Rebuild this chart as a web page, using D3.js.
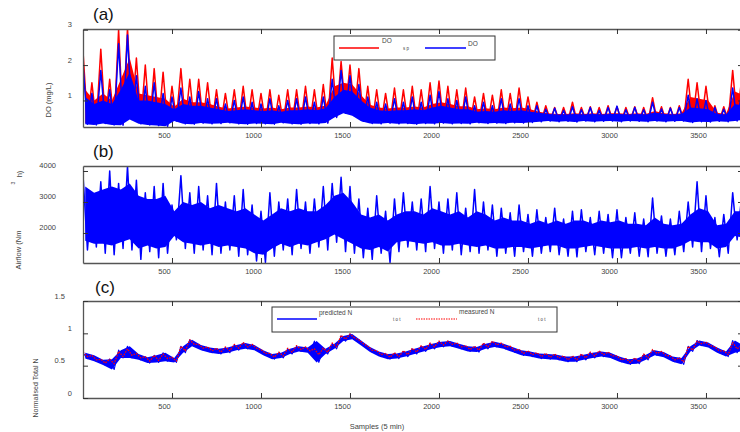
<!DOCTYPE html>
<html lang="en">
<head>
    <script src="https://d3js.org/d3.v7.min.js"></script>
    <meta charset="UTF-8">
    <title>DO, Airflow and Total N</title>
</head>
<style>
    body {
        margin: 0;
        background: #fff;
    }
    svg text {
        font-family: "Liberation Sans", Arial, sans-serif;
        fill: #444;
    }
</style>
<body>
    <div id='grafico'></div>
</body>
<script>
    // samples grouped in bins of 50: hi/lo = spike extremes, band = edges of the dense part
    var binSize = 50
    var xTicks = [500, 1000, 1500, 2000, 2500, 3000, 3500]

    var doTicks = [1, 2, 3]
    var doSpHi = [2.4, 1.5, 2.45, 1.6, 3.0, 3.05, 2.2, 2.0, 1.9, 1.8, 1.4, 1.9, 1.6, 1.6, 1.5,
        1.3, 1.2, 1.3, 1.4, 1.3, 1.2, 1.3, 1.15, 1.3, 1.3, 1.4, 1.3, 1.45, 2.2, 2.1,
        2.0, 1.9, 1.4, 1.3, 1.2, 1.35, 1.3, 1.4, 1.3, 1.5, 1.55, 1.4, 1.3, 1.35, 1.1,
        1.2, 1.15, 1.3, 1.2, 1.35, 1.1, 0.95, 0.85, 0.8, 0.8, 0.95, 0.8, 0.82, 0.8, 0.85,
        0.82, 0.8, 0.82, 0.8, 1.08, 0.82, 0.8, 0.85, 1.6, 1.5, 1.4, 0.85, 0.82, 1.85, 1.6]
    var doSpBand = [1.3, 1.0, 1.2, 1.0, 1.6, 2.2, 1.2, 1.15, 1.1, 1.05, 0.82, 1.05, 0.95, 0.95, 0.9,
        0.82, 0.77, 0.8, 0.83, 0.8, 0.77, 0.8, 0.75, 0.8, 0.8, 0.83, 0.8, 0.86, 1.4, 1.5,
        1.45, 1.15, 0.88, 0.8, 0.77, 0.8, 0.8, 0.83, 0.8, 0.9, 0.95, 0.9, 0.84, 0.84, 0.75,
        0.78, 0.75, 0.8, 0.78, 0.8, 0.75, 0.68, 0.64, 0.62, 0.62, 0.64, 0.62, 0.64, 0.62, 0.64,
        0.64, 0.62, 0.64, 0.62, 0.7, 0.64, 0.62, 0.64, 1.1, 1.05, 1.0, 0.65, 0.62, 1.25, 1.15]
    var doSpLo = [0.36, 0.34, 0.38, 0.34, 0.33, 0.5, 0.37, 0.34, 0.32, 0.3, 0.45, 0.37, 0.36, 0.38, 0.36,
        0.37, 0.39, 0.36, 0.35, 0.37, 0.36, 0.35, 0.39, 0.36, 0.35, 0.37, 0.36, 0.38, 0.55, 0.68,
        0.6, 0.44, 0.37, 0.36, 0.38, 0.36, 0.37, 0.35, 0.37, 0.36, 0.38, 0.36, 0.37, 0.36, 0.39,
        0.37, 0.38, 0.37, 0.39, 0.38, 0.4, 0.42, 0.44, 0.42, 0.43, 0.41, 0.44, 0.42, 0.43, 0.44,
        0.42, 0.44, 0.43, 0.42, 0.44, 0.42, 0.43, 0.44, 0.4, 0.42, 0.41, 0.43, 0.42, 0.44, 0.48]
    var doHi = [2.0, 1.2, 1.85, 1.3, 2.6, 2.85, 1.7, 1.4, 1.5, 1.2, 1.1, 1.35, 1.1, 1.25, 1.05,
        1.05, 0.9, 1.0, 1.1, 0.95, 0.9, 1.05, 0.85, 1.0, 1.05, 1.1, 0.95, 1.1, 1.6, 1.85,
        1.7, 1.45, 1.1, 0.95, 0.9, 1.05, 0.95, 1.1, 0.95, 1.15, 1.25, 1.05, 1.0, 1.1, 0.85,
        0.95, 0.85, 1.05, 0.9, 1.05, 0.85, 0.85, 0.75, 0.78, 0.72, 0.82, 0.74, 0.8, 0.72, 0.8,
        0.84, 0.74, 0.8, 0.74, 0.95, 0.76, 0.78, 0.8, 1.15, 1.05, 1.0, 0.8, 0.75, 1.35, 1.2]
    var doBand = [1.1, 0.9, 1.0, 0.9, 1.3, 1.8, 1.0, 1.0, 0.95, 0.9, 0.75, 0.9, 0.85, 0.85, 0.8,
        0.75, 0.7, 0.72, 0.75, 0.72, 0.7, 0.72, 0.68, 0.72, 0.72, 0.75, 0.72, 0.78, 1.1, 1.3,
        1.25, 1.0, 0.8, 0.72, 0.7, 0.72, 0.72, 0.75, 0.72, 0.8, 0.85, 0.8, 0.75, 0.75, 0.68,
        0.7, 0.68, 0.72, 0.7, 0.72, 0.68, 0.65, 0.62, 0.6, 0.6, 0.62, 0.6, 0.62, 0.6, 0.62,
        0.62, 0.6, 0.62, 0.6, 0.66, 0.62, 0.6, 0.62, 0.8, 0.78, 0.75, 0.62, 0.6, 0.9, 0.85]
    var doLo = [0.33, 0.31, 0.35, 0.31, 0.3, 0.46, 0.34, 0.31, 0.29, 0.27, 0.42, 0.34, 0.33, 0.36, 0.34,
        0.35, 0.37, 0.34, 0.33, 0.35, 0.34, 0.33, 0.37, 0.34, 0.33, 0.35, 0.34, 0.36, 0.52, 0.64,
        0.57, 0.41, 0.35, 0.34, 0.36, 0.34, 0.35, 0.33, 0.35, 0.34, 0.36, 0.34, 0.35, 0.34, 0.37,
        0.35, 0.36, 0.35, 0.37, 0.36, 0.38, 0.4, 0.42, 0.4, 0.41, 0.39, 0.42, 0.4, 0.41, 0.42,
        0.4, 0.42, 0.41, 0.4, 0.42, 0.4, 0.41, 0.42, 0.38, 0.4, 0.39, 0.41, 0.4, 0.42, 0.46]

    var airTicks = [2000, 3000, 4000]
    var airHi = [3870, 3300, 3650, 4000, 3600, 4150, 3700, 3300, 3500, 3600, 2900, 3850, 3300, 3500, 3200,
        3600, 3000, 3200, 3400, 2900, 2700, 3300, 3000, 3100, 3400, 3000, 3100, 3500, 3600, 3800,
        3500, 3100, 2800, 3200, 2700, 3100, 3300, 3000, 3100, 3500, 3000, 3100, 3300, 2800, 3400,
        3000, 2900, 2800, 2650, 2900, 2600, 2750, 2500, 2800, 2450, 2700, 2750, 2500, 2700, 2600,
        2750, 2500, 2650, 2450, 3130, 2550, 2450, 2700, 3000, 3650, 3200, 2500, 2600, 3300, 3150]
    var airBandHi = [3500, 3300, 3400, 3500, 3400, 3600, 3200, 3100, 3100, 3200, 2700, 3000, 2900, 3000, 2800,
        2900, 2800, 2700, 2800, 2600, 2400, 2600, 2800, 2700, 2800, 2700, 2700, 2900, 3200, 3300,
        3000, 2600, 2500, 2600, 2400, 2600, 2700, 2700, 2600, 2800, 2700, 2600, 2700, 2500, 2700,
        2600, 2400, 2500, 2400, 2400, 2300, 2400, 2300, 2400, 2300, 2400, 2400, 2300, 2400, 2350,
        2400, 2300, 2300, 2250, 2500, 2300, 2250, 2300, 2600, 2800, 2700, 2250, 2300, 2700, 2700]
    var airBandLo = [1750, 1650, 1650, 1600, 1700, 1800, 1500, 1600, 1500, 1550, 1900, 1700, 1650, 1600, 1650,
        1550, 1600, 1550, 1500, 1350, 1300, 1500, 1650, 1550, 1650, 1600, 1700, 1800, 1950, 1800,
        1650, 1500, 1450, 1550, 1400, 1700, 1750, 1700, 1650, 1700, 1600, 1600, 1650, 1600, 1550,
        1600, 1500, 1500, 1550, 1550, 1500, 1550, 1600, 1600, 1500, 1500, 1550, 1600, 1550, 1500,
        1500, 1500, 1550, 1500, 1550, 1500, 1500, 1600, 1750, 1700, 1700, 1500, 1550, 1900, 1850]
    var airLo = [1450, 1550, 1350, 1300, 1500, 1450, 1150, 1400, 1200, 1350, 1780, 1500, 1350, 1450, 1300,
        1350, 1450, 1250, 1300, 1100, 1050, 1250, 1450, 1300, 1500, 1350, 1550, 1450, 1700, 1400,
        1350, 1200, 1150, 1350, 1040, 1400, 1550, 1450, 1400, 1500, 1350, 1450, 1300, 1400, 1350,
        1450, 1250, 1350, 1250, 1400, 1250, 1350, 1400, 1300, 1250, 1230, 1400, 1300, 1350, 1200,
        1200, 1350, 1250, 1235, 1350, 1250, 1300, 1400, 1550, 1400, 1500, 1235, 1350, 1780, 1600]

    var nTicks = [0, 0.5, 1, 1.5]
    var nPredHi = [0.70, 0.66, 0.59, 0.60, 0.74, 0.80, 0.68, 0.63, 0.66, 0.70, 0.62, 0.80, 0.90, 0.82, 0.78,
        0.76, 0.78, 0.82, 0.85, 0.82, 0.74, 0.68, 0.70, 0.76, 0.80, 0.78, 0.88, 0.76, 0.84, 0.96,
        0.99, 0.89, 0.79, 0.72, 0.68, 0.69, 0.72, 0.76, 0.80, 0.84, 0.87, 0.88, 0.84, 0.80, 0.79,
        0.84, 0.87, 0.84, 0.79, 0.74, 0.72, 0.69, 0.68, 0.67, 0.64, 0.64, 0.67, 0.70, 0.72, 0.70,
        0.64, 0.60, 0.61, 0.67, 0.74, 0.71, 0.64, 0.62, 0.80, 0.89, 0.86, 0.78, 0.72, 0.89, 0.81]
    var nPredLo = [0.61, 0.57, 0.51, 0.44, 0.62, 0.62, 0.59, 0.54, 0.55, 0.57, 0.55, 0.70, 0.80, 0.74, 0.70,
        0.68, 0.70, 0.74, 0.76, 0.74, 0.66, 0.60, 0.62, 0.68, 0.72, 0.70, 0.55, 0.68, 0.76, 0.88,
        0.91, 0.81, 0.71, 0.64, 0.60, 0.61, 0.64, 0.68, 0.72, 0.76, 0.79, 0.80, 0.76, 0.72, 0.71,
        0.76, 0.79, 0.76, 0.71, 0.66, 0.64, 0.61, 0.60, 0.59, 0.56, 0.56, 0.59, 0.62, 0.64, 0.62,
        0.56, 0.52, 0.53, 0.59, 0.66, 0.63, 0.56, 0.52, 0.72, 0.81, 0.78, 0.70, 0.64, 0.70, 0.73]
    var nMeasHi = [0.71, 0.66, 0.60, 0.60, 0.72, 0.76, 0.69, 0.64, 0.66, 0.68, 0.63, 0.80, 0.90, 0.83, 0.79,
        0.77, 0.79, 0.83, 0.86, 0.83, 0.75, 0.69, 0.71, 0.77, 0.81, 0.79, 0.76, 0.77, 0.85, 0.97,
        0.99, 0.90, 0.80, 0.73, 0.69, 0.70, 0.73, 0.77, 0.81, 0.85, 0.88, 0.88, 0.85, 0.81, 0.80,
        0.85, 0.88, 0.85, 0.80, 0.75, 0.73, 0.70, 0.69, 0.68, 0.65, 0.65, 0.68, 0.71, 0.73, 0.71,
        0.65, 0.61, 0.62, 0.68, 0.75, 0.72, 0.65, 0.62, 0.80, 0.88, 0.86, 0.79, 0.73, 0.86, 0.81]
    var nMeasLo = [0.64, 0.59, 0.54, 0.53, 0.64, 0.66, 0.62, 0.57, 0.58, 0.61, 0.57, 0.73, 0.83, 0.77, 0.73,
        0.71, 0.73, 0.77, 0.79, 0.77, 0.69, 0.63, 0.65, 0.71, 0.75, 0.73, 0.67, 0.71, 0.79, 0.91,
        0.93, 0.84, 0.74, 0.67, 0.63, 0.64, 0.67, 0.71, 0.75, 0.79, 0.82, 0.83, 0.79, 0.75, 0.74,
        0.79, 0.82, 0.79, 0.74, 0.69, 0.67, 0.64, 0.63, 0.62, 0.59, 0.59, 0.62, 0.65, 0.67, 0.65,
        0.59, 0.55, 0.56, 0.62, 0.69, 0.66, 0.59, 0.56, 0.74, 0.84, 0.81, 0.73, 0.67, 0.76, 0.76]

    // hi at the bin start, lo half a bin later
    function zigzag(hi, lo) {
        var pts = []
        hi.forEach((v, i) => {
            pts.push([i * binSize, v])
            pts.push([i * binSize + binSize / 2, lo[i]])
        })
        return pts
    }

    var svg = d3.select(document.getElementById('grafico'))
    .append('svg')
    .attr('width', 740)
    .attr('height', 432)

    var xScale = d3.scaleLinear()
    .domain([0, 3708])
    .range([83, 743])

    var paineis = [
        {id: 'a', top: 29, bottom: 127, domain: [0.25, 3.02], ticks: doTicks, labelX: -11,
            series: [
                {hi: doSpHi, lo: doSpLo, bandHi: doSpBand, bandLo: doSpLo, cor: 'red', w: 1.5},
                {hi: doHi, lo: doLo, bandHi: doBand, bandLo: doLo, cor: 'blue', w: 1.5}]},
        {id: 'b', top: 166, bottom: 263, domain: [1032, 4161], ticks: airTicks, labelX: -27,
            series: [{hi: airHi, lo: airLo, bandHi: airBandHi, bandLo: airBandLo, cor: 'blue', w: 1.5}]},
        {id: 'c', top: 301, bottom: 398, domain: [0, 1.5], ticks: nTicks, labelX: -11,
            series: [
                {hi: nPredHi, lo: nPredLo, bandHi: nPredHi, bandLo: nPredLo, cor: 'blue', w: 1.1},
                {hi: nMeasHi, lo: nMeasLo, cor: 'red', w: 1.3, dash: '1.6,1.2'}]}
    ]

    paineis.forEach((p) => {
        var yScale = d3.scaleLinear()
        .domain(p.domain)
        .range([p.bottom, p.top])

        svg.append('clipPath')
        .attr('id', 'clip-' + p.id)
        .append('rect')
        .attr('x', 83)
        .attr('y', p.top)
        .attr('width', 660)
        .attr('height', p.bottom - p.top)

        var linha = d3.line()
        .x((d) => xScale(d[0]))
        .y((d) => yScale(d[1]))

        var faixa = d3.area()
        .x((d, i) => xScale(i * binSize + binSize / 4))
        .y0((d) => yScale(d[0]))
        .y1((d) => yScale(d[1]))

        var g = svg.append('g')
        .attr('clip-path', 'url(#clip-' + p.id + ')')

        p.series.forEach((s) => {
            if (s.bandHi) {
                g.append('path')
                .attr('d', faixa(s.bandLo.map((v, i) => [v, s.bandHi[i]])))
                .attr('fill', s.cor)
            }
            g.append('path')
            .attr('d', linha(zigzag(s.hi, s.lo)))
            .attr('fill', 'none')
            .attr('stroke', s.cor)
            .attr('stroke-width', s.w)
            .attr('stroke-linejoin', 'round')
            .attr('stroke-dasharray', s.dash || null)
        })

        // matlab style box, ticks pointing inward on all four sides
        var bottomAxis = svg.append('g')
        .attr('transform', 'translate(0,' + p.bottom + ')')
        .call(d3.axisBottom(xScale).tickValues(xTicks).tickSize(-5).tickSizeOuter(0).tickFormat((d) => d))
        bottomAxis.selectAll('text')
        .attr('x', -8)
        .attr('y', 11)
        .attr('dy', null)

        svg.append('g')
        .attr('transform', 'translate(0,' + p.top + ')')
        .call(d3.axisTop(xScale).tickValues(xTicks).tickSize(-5).tickSizeOuter(0).tickFormat(''))

        var leftAxis = svg.append('g')
        .attr('transform', 'translate(83,0)')
        .call(d3.axisLeft(yScale).tickValues(p.ticks).tickSize(-5).tickSizeOuter(0).tickFormat((d) => d))
        leftAxis.selectAll('text')
        .attr('x', (d) => (p.id == 'c' && d % 1 != 0) ? -18 : p.labelX)
        .attr('y', -3)
        .attr('dy', null)

        svg.append('g')
        .attr('transform', 'translate(743,0)')
        .call(d3.axisRight(yScale).tickValues(p.ticks).tickSize(-5).tickSizeOuter(0).tickFormat(''))
    })

    svg.selectAll('.domain')
    .attr('stroke', '#555')
    .attr('stroke-width', 1.3)
    svg.selectAll('.tick line')
    .attr('stroke', '#333')
    svg.selectAll('.tick text')
    .attr('font-size', 7.5)
    .attr('font-family', null)

    // panel letters
    svg.append('text').attr('x', 93).attr('y', 20).attr('font-size', 17).style('fill', '#111').text('(a)')
    svg.append('text').attr('x', 93).attr('y', 157).attr('font-size', 17).style('fill', '#111').text('(b)')
    svg.append('text').attr('x', 95).attr('y', 293).attr('font-size', 17).style('fill', '#111').text('(c)')

    // axis titles
    function rotulo(txt, x, y, size) {
        svg.append('text')
        .attr('transform', 'translate(' + x + ',' + y + ') rotate(-90)')
        .attr('text-anchor', 'middle')
        .attr('font-size', size)
        .text(txt)
    }
    rotulo('DO (mg/L)', 51, 100, 7.5)
    rotulo('Airflow (Nm', 21, 250, 7.5)
    rotulo('3', 14.5, 183, 5)
    rotulo('h)', 22, 174, 7.5)
    rotulo('Normalised Total N', 37.5, 388, 7)

    svg.append('text')
    .attr('x', 377)
    .attr('y', 429)
    .attr('text-anchor', 'middle')
    .attr('font-size', 7.5)
    .text('Samples (5 min)')

    // legend (a)
    var legA = svg.append('g')
    legA.append('rect').attr('x', 334).attr('y', 36).attr('width', 161).attr('height', 24)
    .attr('fill', '#fff').attr('stroke', '#333').attr('stroke-width', 1)
    legA.append('line').attr('x1', 339).attr('x2', 379).attr('y1', 48).attr('y2', 48)
    .attr('stroke', 'red').attr('stroke-width', 1.5)
    legA.append('text').attr('x', 382).attr('y', 43).attr('font-size', 6.5).text('DO')
    legA.append('text').attr('x', 403).attr('y', 50).attr('font-size', 4.5).text('s  p')
    legA.append('line').attr('x1', 425).attr('x2', 466).attr('y1', 48).attr('y2', 48)
    .attr('stroke', 'blue').attr('stroke-width', 1.5)
    legA.append('text').attr('x', 468).attr('y', 46).attr('font-size', 6.5).text('DO')

    // legend (c)
    var legC = svg.append('g')
    legC.append('rect').attr('x', 272).attr('y', 307).attr('width', 285).attr('height', 25)
    .attr('fill', '#fff').attr('stroke', '#333').attr('stroke-width', 1)
    legC.append('line').attr('x1', 277).attr('x2', 317).attr('y1', 319).attr('y2', 319)
    .attr('stroke', 'blue').attr('stroke-width', 1.5)
    legC.append('text').attr('x', 319).attr('y', 315).attr('font-size', 6.5).text('predicted N')
    legC.append('text').attr('x', 393).attr('y', 321).attr('font-size', 4.5).text('t o  t')
    legC.append('line').attr('x1', 416).attr('x2', 457).attr('y1', 319).attr('y2', 319)
    .attr('stroke', 'red').attr('stroke-width', 1.2).attr('stroke-dasharray', '1.5,1')
    legC.append('text').attr('x', 459).attr('y', 314).attr('font-size', 6.5).text('measured N')
    legC.append('text').attr('x', 538).attr('y', 321).attr('font-size', 4.5).text('t o  t')
</script>
</html>
